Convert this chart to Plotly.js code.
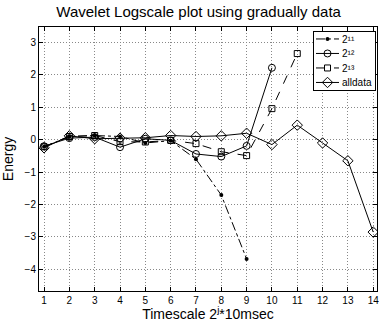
<!DOCTYPE html>
<html>
<head>
<meta charset="utf-8">
<script src="https://cdn.plot.ly/plotly-3.0.1.min.js"></script>
<style>html,body{margin:0;padding:0;background:#fff;}#chart{width:379px;height:322px;}</style>
</head>
<body>
<div id="chart"></div>
<script>
const seriesNames = ["2\u00B9\u00B9", "2\u00B9\u00B2", "2\u00B9\u00B3", "alldata"];
const x11 = [1, 2, 3, 4, 5, 6, 7, 8, 9];
const y11 = [-0.22, 0.1, 0.13, 0.1, -0.1, -0.03, -0.6, -1.71, -3.68];
const x12 = [1, 2, 3, 4, 5, 6, 7, 8, 9, 10];
const y12 = [-0.2, 0.05, 0.08, -0.23, 0.03, -0.02, -0.44, -0.52, -0.19, 2.22];
const x13 = [1, 2, 3, 4, 5, 6, 7, 8, 9, 10, 11];
const y13 = [-0.22, 0.1, 0.13, -0.06, -0.07, -0.02, -0.12, -0.37, -0.49, 0.96, 2.66];
const xAll = [1, 2, 3, 4, 5, 6, 7, 8, 9, 10, 11, 12, 13, 14];
const yAll = [-0.25, 0.12, 0.03, 0.05, 0.06, 0.13, 0.1, 0.12, 0.2, -0.15, 0.45, -0.1, -0.65, -2.85];
const xTicks = [1, 2, 3, 4, 5, 6, 7, 8, 9, 10, 11, 12, 13, 14];
const yTicks = [-4, -3, -2, -1, 0, 1, 2, 3];

const font = "Liberation Sans, Arial, Helvetica, sans-serif";
const traces = [
  {x: x11, y: y11, name: seriesNames[0], mode: "lines+markers",
   line: {color: "#000", width: 1, dash: "dashdot"},
   marker: {symbol: "circle", size: 4, color: "#000"}},
  {x: x12, y: y12, name: seriesNames[1], mode: "lines+markers",
   line: {color: "#000", width: 1, dash: "solid"},
   marker: {symbol: "circle-open", size: 7, color: "#000", line: {width: 1}}},
  {x: x13, y: y13, name: seriesNames[2], mode: "lines+markers",
   line: {color: "#000", width: 1, dash: "dash"},
   marker: {symbol: "square-open", size: 6, color: "#000", line: {width: 1}}},
  {x: xAll, y: yAll, name: seriesNames[3], mode: "lines+markers",
   line: {color: "#000", width: 1, dash: "solid"},
   marker: {symbol: "diamond-open", size: 8, color: "#000", line: {width: 1}}}
];

const layout = {
  width: 379, height: 322,
  margin: {l: 39, r: 2, t: 27, b: 31},
  paper_bgcolor: "#fff", plot_bgcolor: "#fff",
  font: {family: font, color: "#000", size: 10},
  title: {text: "Wavelet Logscale plot using gradually data", font: {size: 15, family: font},
          x: 0.524, xanchor: "center", y: 0.962, yanchor: "middle", yref: "container"},
  showlegend: true,
  legend: {x: 0.995, xanchor: "right", y: 0.985, yanchor: "top", bgcolor: "#fff",
           bordercolor: "#000", borderwidth: 1, font: {size: 10, family: font},
           tracegroupgap: 0, itemwidth: 30},
  xaxis: {range: [0.8, 14.15], tickvals: xTicks, ticktext: xTicks.map(String),
          ticks: "inside", ticklen: 4, tickcolor: "#000", showline: true, linecolor: "#000",
          linewidth: 1, mirror: "allticks", showgrid: true, gridcolor: "#888", griddash: "1px,2px",
          gridwidth: 1, zeroline: false, tickfont: {size: 10}, ticklabeloverflow: "allow",
          title: {text: "Timescale 2<sup>j</sup>*10msec", font: {size: 14}, standoff: 2}},
  yaxis: {range: [-4.67, 3.48], tickvals: yTicks, ticks: "inside", ticklen: 4, tickcolor: "#000",
          showline: true, linecolor: "#000", linewidth: 1, mirror: "allticks", showgrid: true,
          gridcolor: "#888", griddash: "1px,2px", gridwidth: 1, zeroline: false, tickfont: {size: 10},
          ticklabeloverflow: "allow",
          title: {text: "Energy", font: {size: 14}, standoff: 7}}
};

const gd = document.getElementById("chart");
Plotly.newPlot(gd, traces, layout, {displayModeBar: false, staticPlot: true}).then(function () {
  try {
    // Compact the legend to match the tighter MATLAB-style legend box
    const leg = gd.querySelector("g.legend");
    if (!leg) return;
    const items = leg.querySelectorAll("g.traces");
    const step = 14.5, top = 8, sampleStart = 2, sampleLen = 23, textX = 28;
    let maxRight = 0;
    items.forEach(function (g, i) {
      const m = /translate\(([-\d.]+)[ ,]+([-\d.]+)\)/.exec(g.getAttribute("transform") || "");
      const tx = m ? parseFloat(m[1]) : 1;
      g.setAttribute("transform", "translate(" + tx + "," + (top + i * step) + ")");
      g.querySelectorAll(".legendlines path").forEach(function (p) {
        p.setAttribute("d", "M" + sampleStart + ",0h" + sampleLen);
      });
      g.querySelectorAll(".legendpoints path").forEach(function (p) {
        p.setAttribute("transform", "translate(" + (sampleStart + sampleLen / 2) + ",0)");
      });
      const t = g.querySelector("text.legendtext");
      if (t) {
        t.setAttribute("x", textX);
        const bb = t.getBBox();
        maxRight = Math.max(maxRight, tx + bb.x + bb.width);
      }
    });
    const w = Math.ceil(maxRight + 3);
    const h = Math.ceil(top + (items.length - 1) * step + 7);
    const bg = leg.querySelector("rect.bg");
    if (bg) { bg.setAttribute("width", w); bg.setAttribute("height", h); }
    const fl = gd._fullLayout;
    const right = fl._size.l + fl._size.w - 2;
    const lt = /translate\(([-\d.]+)[ ,]+([-\d.]+)\)/.exec(leg.getAttribute("transform") || "");
    const ly = lt ? parseFloat(lt[2]) : 30;
    leg.setAttribute("transform", "translate(" + (right - w) + "," + ly + ")");
  } catch (e) { /* keep default legend */ }
});
</script>
</body>
</html>
